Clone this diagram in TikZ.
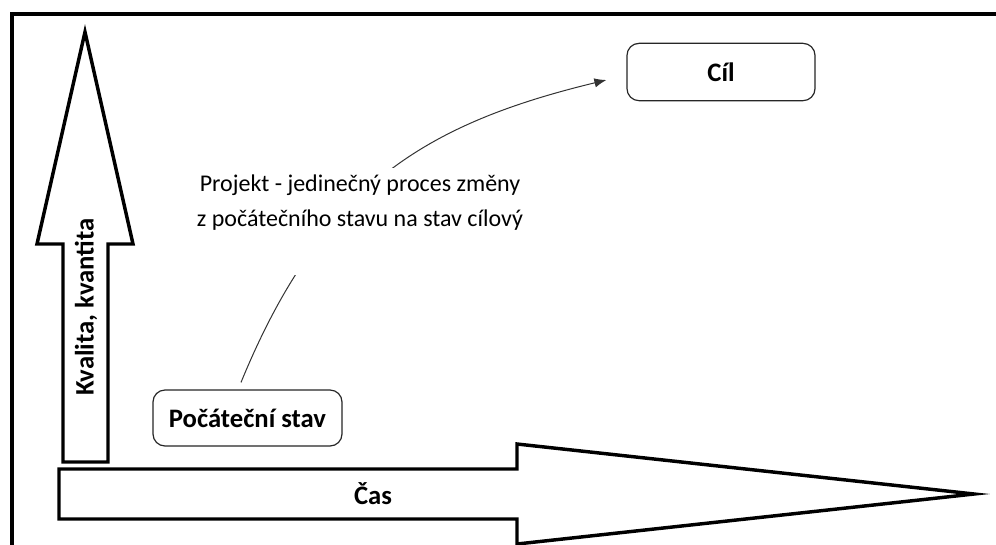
\documentclass[tikz,border=0pt]{standalone}
\usepackage{fontspec}
\setmainfont{Carlito}
\usetikzlibrary{arrows.meta,calc}

\tikzset{
  bigarrow/.style={draw=black, line width=2.6pt, line join=miter, fill=white},
  frameline/.style={draw=black, line width=3pt},
  statebox/.style={draw=black!85, line width=0.9pt, rounded corners=9pt, fill=white,
    font=\fontsize{20}{22}\selectfont\bfseries, inner sep=0pt},
  axislabel/.style={font=\fontsize{20}{22}\selectfont\bfseries, inner sep=0pt},
  pathlink/.style={draw=black!80, line width=0.75pt, -{Latex[length=9pt,width=7pt]}},
}

\begin{document}
\begin{tikzpicture}[x=0.75pt,y=-0.75pt]
  \useasboundingbox (0,0) rectangle (996,544);

  % frame along the left and top edges
  \draw[frameline] (11.5,546) -- (11.5,13.5) -- (998,13.5);

  % vertical block arrow: quality / quantity
  \draw[bigarrow] (85,32) -- (133,244) -- (108,244) -- (108,462) -- (63,462)
    -- (63,244) -- (37,244) -- cycle;
  \node[axislabel, rotate=90] (kval) at (86,307) {Kvalita, kvantita};

  % horizontal block arrow: time
  \draw[bigarrow] (59,469) -- (517,469) -- (517,444) -- (974,494) -- (517,544)
    -- (517,519) -- (59,519) -- cycle;
  \node[axislabel] (cas) at (373,494) {Čas};

  % states
  \node[statebox, minimum width=141.75pt, minimum height=42pt] (start) at (247.5,418) {Počáteční stav};
  \node[statebox, minimum width=141pt, minimum height=43pt] (goal) at (721,72) {Cíl};

  % transition from the initial state to the goal
  \coordinate (from) at ($(start.north)+(-6.5,-7)$);
  \coordinate (to) at ($(goal.west)+(-20,8)$);
  \draw[pathlink] (from) .. controls (320,190) and (420,125) .. (to);

  % description laid over the transition
  \node[fill=white, inner sep=0pt, anchor=north] (desc) at (360,168)
    {\parbox[t][80.25pt][t]{260pt}{\centering\vspace*{5pt}%
      \fontsize{18}{26.5}\selectfont
      Projekt - jedinečný proces změny\\
      z počátečního stavu na stav cílový}};
\end{tikzpicture}
\end{document}
